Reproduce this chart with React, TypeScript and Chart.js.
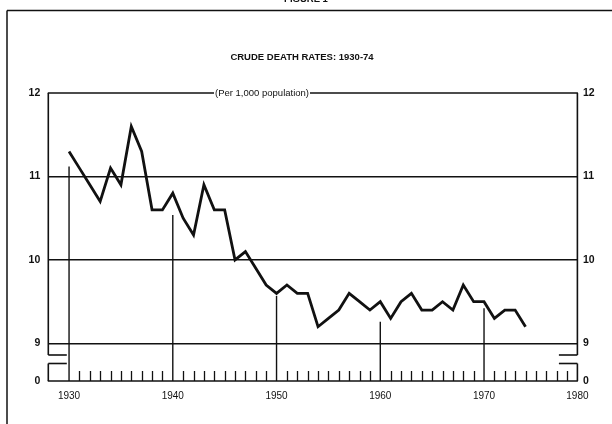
import React, { useEffect, useRef } from "react";
import { Chart, registerables } from "chart.js";

Chart.register(...registerables);

// ---- data ----
const YEARS = [
  1930, 1931, 1932, 1933, 1934, 1935, 1936, 1937, 1938, 1939,
  1940, 1941, 1942, 1943, 1944, 1945, 1946, 1947, 1948, 1949,
  1950, 1951, 1952, 1953, 1954, 1955, 1956, 1957, 1958, 1959,
  1960, 1961, 1962, 1963, 1964, 1965, 1966, 1967, 1968, 1969,
  1970, 1971, 1972, 1973, 1974,
];
const DEATH_RATES = [
  11.3, 11.1, 10.9, 10.7, 11.1, 10.9, 11.6, 11.3, 10.6, 10.6,
  10.8, 10.5, 10.3, 10.9, 10.6, 10.6, 10.0, 10.1, 9.9, 9.7,
  9.6, 9.7, 9.6, 9.6, 9.2, 9.3, 9.4, 9.6, 9.5, 9.4,
  9.5, 9.3, 9.5, 9.6, 9.4, 9.4, 9.5, 9.4, 9.7, 9.5,
  9.5, 9.3, 9.4, 9.4, 9.2,
];
// decade marker lines (year, and the rate they reach up to)
const DECADE_YEARS = [1930, 1940, 1950, 1960, 1970];
const DECADE_LINE_TOPS = [11.12, 10.54, 9.57, 9.26, 9.42];
// yearly minor ticks along the base
const MINOR_TICK_FIRST = 1931;
const MINOR_TICK_LAST = 1978;

// axis ticks (the lowest y tick is the broken-axis zero)
const X_TICK_VALUES = [1930, 1940, 1950, 1960, 1970, 1979];
const X_TICK_LABELS = ["1930", "1940", "1950", "1960", "1970", "1980"];
const Y_TICK_VALUES = [8.55, 9, 10, 11, 12];
const Y_TICK_LABELS = ["0", "9", "10", "11", "12"];
const Y_GRID_VALUES = [9, 10, 11];

const TITLE = "CRUDE DEATH RATES: 1930-74";
const SUBTITLE = "(Per 1,000 population)";
const FIGURE_LABEL = "FIGURE 1";

// ---- style ----
const INK = "#111111";
const FONT = "'Liberation Sans', Arial, Helvetica, sans-serif";

const X_MIN = 1928;
const X_MAX = 1979;
const Y_MIN = 8.55;
const Y_MAX = 12;

function seg(ctx: CanvasRenderingContext2D, x1: number, y1: number, x2: number, y2: number) {
  ctx.beginPath();
  ctx.moveTo(x1, y1);
  ctx.lineTo(x2, y2);
  ctx.stroke();
}

const framePlugin = {
  id: "frameDecor",
  beforeDatasetsDraw(chart: any) {
    const ctx: CanvasRenderingContext2D = chart.ctx;
    const { left, right, top, bottom } = chart.chartArea;
    const x = chart.scales.x;
    const y = chart.scales.y;
    ctx.save();
    ctx.strokeStyle = INK;
    ctx.lineCap = "butt";

    // yearly minor ticks
    ctx.lineWidth = 1.3;
    for (let yr = MINOR_TICK_FIRST; yr <= MINOR_TICK_LAST; yr++) {
      if (DECADE_YEARS.includes(yr)) continue;
      const px = Math.round(x.getPixelForValue(yr)) + 0.5;
      seg(ctx, px, bottom, px, bottom - 10);
    }
    // decade lines
    ctx.lineWidth = 1.4;
    DECADE_YEARS.forEach((yr, i) => {
      const px = x.getPixelForValue(yr);
      seg(ctx, px, bottom, px, y.getPixelForValue(DECADE_LINE_TOPS[i]));
    });

    // baseline
    ctx.lineWidth = 1.6;
    seg(ctx, left - 0.5, bottom, right + 0.5, bottom);

    // top border with subtitle
    ctx.font = `9.5px ${FONT}`;
    ctx.fillStyle = INK;
    ctx.textAlign = "center";
    ctx.textBaseline = "middle";
    const subX = 262;
    const w = ctx.measureText(SUBTITLE).width;
    ctx.fillText(SUBTITLE, subX, top + 0.5);
    ctx.lineWidth = 1.6;
    seg(ctx, left - 0.5, top, subX - w / 2 - 1, top);
    seg(ctx, subX + w / 2 + 1, top, right + 0.5, top);

    // side axes with break
    const b1 = bottom - 26;
    const b2 = bottom - 17.5;
    const tickW = 18.5;
    seg(ctx, left, top, left, b1);
    seg(ctx, left, b1, left + tickW, b1);
    seg(ctx, left, b2, left + tickW, b2);
    seg(ctx, left, b2, left, bottom);
    seg(ctx, right, top, right, b1);
    seg(ctx, right, b1, right - tickW, b1);
    seg(ctx, right, b2, right - tickW, b2);
    seg(ctx, right, b2, right, bottom);

    ctx.restore();
  },
  afterDraw(chart: any) {
    const ctx: CanvasRenderingContext2D = chart.ctx;
    const W = chart.width;
    const H = chart.height;
    ctx.save();
    ctx.fillStyle = INK;
    ctx.strokeStyle = INK;
    // title
    ctx.font = `bold 9.5px ${FONT}`;
    ctx.textAlign = "center";
    ctx.textBaseline = "middle";
    ctx.fillText(TITLE, W / 2 - 4, 57);
    // clipped figure label at the very top
    ctx.textBaseline = "alphabetic";
    ctx.fillText(FIGURE_LABEL, W / 2, 2);
    // page frame
    ctx.lineWidth = 1.5;
    seg(ctx, 7, 10.5, W, 10.5);
    seg(ctx, 7, 10.5, 7, H);
    ctx.restore();
  },
};

export default function App() {
  const ref = useRef<HTMLCanvasElement | null>(null);

  useEffect(() => {
    if (!ref.current) return;
    const tickFont = { family: FONT, size: 10.5, weight: "bold" as const };
    const yTicks = (scale: any) => {
      scale.ticks = Y_TICK_VALUES.map((v) => ({ value: v }));
    };
    const yLabel = (v: any) => {
      const i = Y_TICK_VALUES.indexOf(Number(v));
      return i >= 0 ? Y_TICK_LABELS[i] : "";
    };
    const chart = new Chart(ref.current, {
      type: "line",
      data: {
        datasets: [
          {
            label: "Crude death rate",
            data: YEARS.map((yr, i) => ({ x: yr, y: DEATH_RATES[i] })),
            borderColor: INK,
            borderWidth: 2.8,
            pointRadius: 0,
            tension: 0,
            fill: false,
            borderJoinStyle: "miter",
          },
        ],
      },
      options: {
        responsive: false,
        animation: false,
        events: [],
        layout: { padding: { top: 93, left: 0, right: 0, bottom: 0 } },
        plugins: {
          legend: { display: false },
          tooltip: { enabled: false },
          title: { display: false },
        },
        scales: {
          x: {
            type: "linear",
            min: X_MIN,
            max: X_MAX,
            afterBuildTicks: (scale: any) => {
              scale.ticks = X_TICK_VALUES.map((v) => ({ value: v }));
            },
            afterFit: (scale: any) => {
              scale.height = 43;
            },
            grid: { display: false, drawTicks: false },
            border: { display: false },
            ticks: {
              color: INK,
              font: { family: FONT, size: 10 },
              padding: 9,
              maxRotation: 0,
              autoSkip: false,
              callback: (v: any) => {
                const i = X_TICK_VALUES.indexOf(Number(v));
                return i >= 0 ? X_TICK_LABELS[i] : "";
              },
            },
          },
          y: {
            type: "linear",
            position: "left",
            min: Y_MIN,
            max: Y_MAX,
            afterBuildTicks: yTicks,
            afterFit: (scale: any) => {
              scale.width = 48.3;
            },
            grid: {
              drawTicks: false,
              lineWidth: 1.5,
              color: (c: any) =>
                c.tick && Y_GRID_VALUES.includes(c.tick.value) ? INK : "rgba(0,0,0,0)",
            },
            border: { display: false },
            ticks: {
              color: INK,
              font: tickFont,
              padding: 8,
              autoSkip: false,
              callback: yLabel,
            },
          },
          y2: {
            type: "linear",
            position: "right",
            min: Y_MIN,
            max: Y_MAX,
            afterBuildTicks: yTicks,
            afterFit: (scale: any) => {
              scale.width = 34.6;
            },
            grid: { display: false, drawTicks: false },
            border: { display: false },
            ticks: {
              color: INK,
              font: tickFont,
              padding: 5.5,
              autoSkip: false,
              callback: yLabel,
            },
          },
        },
      },
      plugins: [framePlugin],
    });
    return () => chart.destroy();
  }, []);

  return (
    <div style={{ position: "absolute", left: 0, top: 0, width: 612, height: 424, background: "#ffffff" }}>
      <canvas ref={ref} width={612} height={424} style={{ display: "block" }} />
    </div>
  );
}
